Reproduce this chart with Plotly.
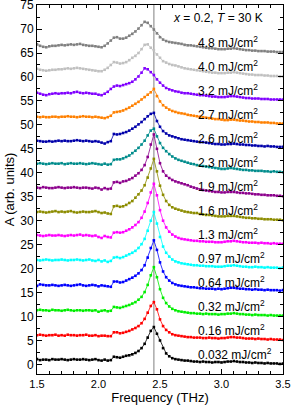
import plotly.graph_objects as go

freq = [1.5, 1.525, 1.55, 1.575, 1.6, 1.625, 1.65, 1.675, 1.7, 1.725,
        1.75, 1.775, 1.8, 1.825, 1.85, 1.875, 1.9, 1.925, 1.95, 1.975,
        2.0, 2.025, 2.05, 2.075, 2.1, 2.125, 2.15, 2.175, 2.2, 2.225,
        2.25, 2.275, 2.3, 2.325, 2.35, 2.375, 2.4, 2.425, 2.45, 2.475,
        2.5, 2.525, 2.55, 2.575, 2.6, 2.625, 2.65, 2.675, 2.7, 2.725,
        2.75, 2.775, 2.8, 2.825, 2.85, 2.875, 2.9, 2.925, 2.95, 2.975,
        3.0, 3.025, 3.05, 3.075, 3.1, 3.125, 3.15, 3.175, 3.2, 3.225,
        3.25, 3.275, 3.3, 3.325, 3.35, 3.375, 3.4, 3.425, 3.45, 3.475, 3.5]

fluence_labels = ["0.032", "0.16", "0.32", "0.64", "0.97", "1.3", "1.6",
                  "1.9", "2.3", "2.6", "2.7", "3.2", "4.0", "4.8"]
offsets = [0, 5, 10, 15, 20, 25, 30, 35, 40, 45, 50, 55, 60, 65]

a_0032 = [1.1, 0.9, 1.0, 1.0, 0.9, 1.1, 1.0, 1.0, 1.1, 1.0, 0.9, 1.0, 1.1, 1.0, 1.0, 1.1, 1.0, 0.9, 1.0, 1.1,
          0.9, 0.8, 1.0, 0.8, 0.9, 1.6, 1.5, 1.4, 1.6, 1.8, 1.9, 2.1, 2.4, 2.8, 3.4, 4.3, 5.6, 7.0, 7.8, 6.4,
          5.0, 3.4, 2.3, 1.7, 1.3, 1.1, 1.0, 0.9, 0.8, 0.8, 0.7, 0.6, 0.6, 0.5, 0.6, 0.5, 0.5, 0.4, 0.5, 0.5,
          0.4, 0.5, 0.6, 0.6, 0.7, 0.6, 0.5, 0.5, 0.4, 0.4, 0.3, 0.4, 0.3, 0.3, 0.2, 0.3, 0.2, 0.2, 0.2, 0.1, 0.2]
a_016 = [1.1, 1.2, 1.1, 1.0, 1.1, 1.1, 1.2, 1.0, 1.1, 1.0, 1.2, 1.1, 1.1, 1.0, 1.1, 1.1, 1.2, 1.0, 1.0, 1.1,
         0.9, 1.0, 1.0, 0.9, 0.9, 1.7, 1.7, 1.5, 1.6, 1.8, 2.0, 2.3, 2.6, 3.0, 3.6, 4.5, 5.8, 7.2, 8.0, 6.5,
         4.4, 3.0, 2.2, 1.7, 1.3, 1.1, 1.0, 0.9, 0.8, 0.7, 0.7, 0.6, 0.6, 0.6, 0.5, 0.5, 0.6, 0.5, 0.5, 0.4,
         0.5, 0.5, 0.6, 0.7, 0.7, 0.6, 0.6, 0.5, 0.4, 0.4, 0.4, 0.3, 0.4, 0.3, 0.3, 0.2, 0.3, 0.2, 0.2, 0.2, 0.1]
a_032 = [1.3, 1.4, 1.3, 1.3, 1.2, 1.4, 1.3, 1.3, 1.2, 1.3, 1.4, 1.3, 1.2, 1.3, 1.3, 1.2, 1.3, 1.3, 1.2, 1.3,
         1.0, 1.2, 1.3, 1.1, 1.2, 2.0, 1.9, 1.8, 2.0, 2.2, 2.4, 2.7, 3.0, 3.5, 4.1, 5.1, 6.6, 8.6, 10.3, 8.2,
         5.7, 3.9, 2.8, 2.1, 1.6, 1.3, 1.1, 1.0, 0.9, 0.8, 0.7, 0.7, 0.6, 0.6, 0.5, 0.6, 0.5, 0.5, 0.5, 0.4,
         0.5, 0.5, 0.6, 0.6, 0.7, 0.6, 0.5, 0.5, 0.4, 0.4, 0.3, 0.4, 0.3, 0.3, 0.3, 0.2, 0.3, 0.2, 0.2, 0.2, 0.2]
a_064 = [1.4, 1.7, 1.6, 1.5, 1.5, 1.6, 1.5, 1.4, 1.5, 1.6, 1.5, 1.4, 1.5, 1.6, 1.7, 1.5, 1.4, 1.5, 1.6, 1.5,
         1.3, 1.5, 1.4, 1.3, 1.2, 2.3, 2.3, 2.1, 2.2, 2.5, 2.8, 3.1, 3.5, 4.0, 4.7, 5.7, 7.3, 9.3, 10.9, 8.9,
         6.3, 4.4, 3.2, 2.5, 2.0, 1.7, 1.5, 1.4, 1.3, 1.2, 1.1, 1.1, 1.0, 0.9, 0.9, 0.8, 0.8, 0.8, 0.7, 0.8,
         0.7, 0.8, 0.9, 1.0, 1.0, 0.9, 0.8, 0.8, 0.7, 0.7, 0.6, 0.7, 0.6, 0.6, 0.5, 0.6, 0.5, 0.5, 0.5, 0.4, 0.5]
a_097 = [1.8, 1.7, 1.8, 1.9, 1.8, 1.7, 1.8, 1.8, 1.9, 1.8, 1.7, 1.8, 1.8, 1.9, 1.8, 1.7, 1.8, 1.9, 1.7, 1.6,
         1.8, 1.5, 1.7, 1.4, 1.6, 2.3, 2.4, 2.2, 2.4, 2.7, 3.0, 3.3, 3.7, 4.3, 5.1, 6.2, 7.9, 10.0, 11.8, 9.4,
         6.6, 4.6, 3.3, 2.5, 1.9, 1.5, 1.3, 1.1, 1.0, 0.9, 0.8, 0.7, 0.7, 0.6, 0.6, 0.5, 0.5, 0.5, 0.4, 0.4,
         0.4, 0.5, 0.6, 0.6, 0.7, 0.6, 0.5, 0.4, 0.4, 0.3, 0.3, 0.4, 0.3, 0.3, 0.2, 0.3, 0.2, 0.2, 0.2, 0.1, 0.2]
a_13 = [2.0, 1.9, 1.8, 1.9, 2.0, 1.9, 1.9, 2.0, 1.9, 1.8, 1.9, 2.0, 1.9, 2.0, 2.1, 1.9, 2.0, 1.9, 1.8, 1.9,
        1.6, 1.4, 1.8, 1.6, 1.5, 2.5, 2.6, 2.5, 2.6, 2.9, 3.2, 3.6, 4.1, 4.7, 5.6, 6.9, 8.7, 10.9, 12.7, 10.3,
        7.2, 5.0, 3.6, 2.7, 2.1, 1.7, 1.4, 1.2, 1.1, 1.0, 0.9, 0.8, 0.8, 0.7, 0.7, 0.6, 0.6, 0.6, 0.5, 0.5,
        0.5, 0.6, 0.7, 0.7, 0.8, 0.7, 0.6, 0.5, 0.5, 0.4, 0.4, 0.4, 0.3, 0.4, 0.3, 0.3, 0.2, 0.3, 0.2, 0.2, 0.2]
a_16 = [1.8, 1.9, 1.8, 1.7, 1.8, 1.9, 2.0, 1.8, 1.9, 1.8, 1.9, 2.0, 1.8, 1.7, 1.8, 1.9, 1.8, 1.8, 1.9, 2.0,
        1.8, 1.6, 1.7, 1.5, 1.4, 3.0, 3.1, 2.9, 3.0, 3.3, 3.7, 4.1, 4.8, 5.5, 6.3, 7.4, 9.0, 10.9, 12.9, 10.3,
        7.3, 5.4, 4.1, 3.3, 2.8, 2.5, 2.3, 2.1, 1.9, 1.8, 1.7, 1.6, 1.6, 1.4, 1.3, 1.2, 1.2, 1.1, 1.0, 0.9,
        0.9, 0.9, 1.0, 1.0, 1.0, 0.9, 0.8, 0.7, 0.6, 0.6, 0.5, 0.5, 0.4, 0.4, 0.3, 0.3, 0.3, 0.2, 0.2, 0.2, 0.1]
a_19 = [1.9, 1.8, 2.0, 1.9, 1.8, 1.8, 1.9, 2.0, 1.9, 1.8, 1.9, 1.9, 2.0, 1.9, 1.8, 1.9, 1.9, 1.8, 1.7, 1.9,
        1.8, 1.5, 1.8, 1.6, 1.7, 3.0, 3.1, 2.9, 3.2, 3.3, 3.6, 3.9, 4.4, 4.9, 5.6, 6.6, 8.3, 10.9, 13.0, 10.0,
        7.0, 5.3, 4.4, 3.9, 3.5, 3.2, 3.0, 2.8, 2.6, 2.4, 2.1, 1.9, 1.7, 1.5, 1.4, 1.3, 1.2, 1.1, 1.0, 1.0,
        0.9, 0.9, 1.0, 1.0, 1.0, 0.9, 0.8, 0.8, 0.7, 0.7, 0.6, 0.5, 0.5, 0.4, 0.4, 0.3, 0.3, 0.3, 0.2, 0.2, 0.1]
a_23 = [1.9, 2.0, 1.9, 1.8, 1.9, 2.0, 1.9, 1.9, 2.0, 1.8, 1.9, 2.0, 1.9, 1.9, 2.0, 1.9, 1.8, 1.9, 2.0, 1.9,
        1.8, 1.7, 1.9, 1.7, 1.8, 2.7, 2.8, 2.8, 3.0, 3.3, 3.6, 4.1, 4.6, 5.2, 5.9, 6.7, 7.8, 8.8, 9.2, 7.6,
        6.2, 5.2, 4.5, 3.9, 3.4, 3.0, 2.7, 2.5, 2.3, 2.1, 1.9, 1.8, 1.6, 1.5, 1.4, 1.3, 1.2, 1.1, 1.0, 0.9,
        0.8, 0.8, 0.9, 1.0, 0.9, 0.8, 0.7, 0.6, 0.6, 0.5, 0.5, 0.4, 0.4, 0.4, 0.3, 0.3, 0.2, 0.3, 0.2, 0.2, 0.1]
a_26 = [1.7, 1.6, 1.5, 1.5, 1.6, 1.5, 1.6, 1.7, 1.6, 1.7, 1.6, 1.6, 1.7, 1.8, 1.7, 1.6, 1.7, 1.6, 1.5, 1.6,
        1.5, 1.3, 1.1, 1.4, 1.6, 3.1, 3.0, 3.1, 3.3, 3.5, 3.8, 4.2, 4.6, 5.1, 5.6, 6.2, 6.8, 7.3, 7.5, 5.8,
        4.6, 3.7, 3.2, 2.8, 2.6, 2.4, 2.2, 2.0, 1.9, 1.8, 1.7, 1.6, 1.5, 1.4, 1.4, 1.3, 1.2, 1.1, 1.0, 1.0,
        0.9, 0.9, 1.0, 1.0, 1.1, 1.0, 0.9, 0.9, 0.8, 0.8, 0.7, 0.7, 0.6, 0.6, 0.5, 0.6, 0.5, 0.5, 0.4, 0.4, 0.4]
a_27 = [1.7, 1.6, 1.7, 1.6, 1.6, 1.7, 1.7, 1.6, 1.7, 1.7, 1.8, 1.7, 1.7, 1.6, 1.7, 1.8, 1.7, 1.7, 1.6, 1.7,
        1.6, 1.5, 1.4, 1.6, 1.9, 2.6, 2.7, 2.8, 3.0, 3.3, 3.6, 4.0, 4.4, 4.8, 5.3, 5.8, 6.3, 6.8, 7.5, 6.0,
        4.9, 4.1, 3.6, 3.2, 2.9, 2.7, 2.5, 2.4, 2.3, 2.1, 2.0, 1.9, 1.8, 1.7, 1.6, 1.5, 1.4, 1.3, 1.2, 1.2,
        1.1, 1.0, 1.0, 1.1, 1.1, 1.0, 0.9, 0.9, 0.8, 0.7, 0.7, 0.6, 0.6, 0.5, 0.5, 0.5, 0.4, 0.4, 0.3, 0.3, 0.3]
a_32 = [1.7, 1.5, 1.3, 1.2, 1.4, 1.5, 1.6, 1.5, 1.6, 1.6, 1.7, 1.6, 1.8, 1.9, 1.7, 1.6, 1.7, 1.6, 1.5, 1.5,
        1.3, 1.2, 1.5, 1.9, 2.5, 3.0, 3.2, 3.1, 3.3, 3.5, 3.7, 4.0, 4.5, 5.1, 5.9, 6.8, 6.6, 6.0, 5.4, 4.5,
        3.8, 3.2, 2.7, 2.4, 2.2, 2.0, 1.9, 1.7, 1.6, 1.6, 1.5, 1.4, 1.3, 1.2, 1.2, 1.1, 1.0, 0.9, 0.9, 0.8,
        0.8, 0.8, 0.9, 1.0, 1.0, 0.9, 0.8, 0.7, 0.6, 0.6, 0.5, 0.5, 0.5, 0.4, 0.4, 0.4, 0.3, 0.3, 0.3, 0.3, 0.3]
a_40 = [1.7, 1.5, 1.4, 1.3, 1.4, 1.5, 1.5, 1.6, 1.6, 1.7, 1.8, 1.7, 1.8, 1.9, 1.8, 1.7, 1.6, 1.5, 1.4, 1.3,
        1.2, 1.2, 1.5, 1.9, 2.5, 3.1, 3.0, 2.8, 2.9, 3.1, 3.5, 4.0, 4.4, 5.0, 5.8, 6.7, 6.8, 6.1, 5.6, 4.7,
        4.0, 3.3, 3.0, 2.7, 2.5, 2.4, 2.2, 2.0, 1.8, 1.7, 1.6, 1.5, 1.4, 1.3, 1.2, 1.1, 1.0, 0.9, 0.9, 0.8,
        0.8, 0.8, 0.9, 0.9, 1.0, 0.9, 0.8, 0.7, 0.6, 0.5, 0.5, 0.4, 0.4, 0.4, 0.3, 0.3, 0.2, 0.2, 0.2, 0.1, 0.1]
a_48 = [1.8, 1.5, 1.3, 1.2, 1.4, 1.5, 1.5, 1.6, 1.7, 1.6, 1.7, 1.8, 1.7, 1.8, 1.9, 1.7, 1.6, 1.5, 1.5, 1.4,
        1.3, 1.2, 1.5, 2.0, 2.6, 3.2, 3.3, 3.0, 3.0, 3.2, 3.6, 4.0, 4.5, 5.1, 5.8, 6.5, 6.3, 5.6, 4.9, 4.1,
        3.3, 2.8, 2.5, 2.3, 2.2, 2.1, 2.0, 1.9, 1.7, 1.6, 1.6, 1.5, 1.4, 1.3, 1.2, 1.1, 1.0, 1.0, 0.9, 0.8,
        0.8, 0.8, 0.9, 0.9, 1.0, 0.9, 0.8, 0.7, 0.6, 0.6, 0.5, 0.5, 0.4, 0.4, 0.4, 0.3, 0.3, 0.3, 0.2, 0.2, 0.2]

series = [a_0032, a_016, a_032, a_064, a_097, a_13, a_16,
          a_19, a_23, a_26, a_27, a_32, a_40, a_48]
colors = ["#000000", "#ff0000", "#00ee00", "#0000ff", "#00ffff", "#ff00ff", "#8c8c00",
          "#8c008c", "#008c8c", "#0000aa", "#ff8000", "#8000ff", "#c0c0c0", "#808080"]

FONT = "Arial, Liberation Sans, sans-serif"

fig = go.Figure()

# reference line at the phonon frequency
fig.add_shape(type="line", x0=2.45, x1=2.45, y0=0, y1=1, xref="x", yref="paper",
              line=dict(color="#aaaaaa", width=1.5), layer="below")

for lab, off, ys, col in zip(fluence_labels, offsets, series, colors):
    fig.add_trace(go.Scatter(
        x=freq, y=[v + off for v in ys], mode="lines+markers",
        line=dict(color=col, width=0.8),
        marker=dict(symbol="square", size=2.6, color=col, line=dict(width=0)),
        name=lab + " mJ/cm²", showlegend=False))
    fig.add_annotation(x=2.79, y=off + 2.2, xref="x", yref="y",
                       text=lab + " mJ/cm<sup>2</sup>", showarrow=False,
                       xanchor="left", yanchor="middle",
                       font=dict(family=FONT, size=12, color="#000000"))

fig.add_annotation(x=2.97, y=72.4, xref="x", yref="y",
                   text="<i>x</i> = 0.2, <i>T</i> = 30 K", showarrow=False,
                   xanchor="center", yanchor="middle",
                   font=dict(family=FONT, size=12, color="#000000"))

fig.update_layout(
    width=291, height=412,
    margin=dict(l=37, r=8, t=5, b=38, autoexpand=False),
    paper_bgcolor="white", plot_bgcolor="white",
    font=dict(family=FONT, size=11, color="#000000"),
    xaxis=dict(range=[1.5, 3.5], tick0=1.5, dtick=0.5, tickformat=".1f",
               ticks="inside", ticklen=5, tickwidth=1, tickcolor="black",
               showline=True, linecolor="black", linewidth=1, mirror="ticks",
               showgrid=False, zeroline=False, automargin=False,
               ticklabeloverflow="allow",
               minor=dict(dtick=0.1, tick0=1.5, ticks="inside", ticklen=3,
                          tickcolor="black", showgrid=False),
               tickfont=dict(family=FONT, size=11),
               title=dict(text="Frequency (THz)", font=dict(family=FONT, size=13), standoff=3)),
    yaxis=dict(range=[-2, 75.02], tick0=0, dtick=5,
               ticks="inside", ticklen=5, tickwidth=1, tickcolor="black",
               showline=True, linecolor="black", linewidth=1, mirror="ticks",
               showgrid=False, zeroline=False, automargin=False,
               ticklabeloverflow="allow",
               minor=dict(dtick=2.5, tick0=0, ticks="inside", ticklen=3,
                          tickcolor="black", showgrid=False),
               tickfont=dict(family=FONT, size=12),
               title=dict(text="A (arb. units)", font=dict(family=FONT, size=13), standoff=2)),
)

fig.write_html("out.html",
               config={"displayModeBar": False, "staticPlot": True},
               post_script="document.body.style.margin='0';document.body.style.overflow='hidden';")
